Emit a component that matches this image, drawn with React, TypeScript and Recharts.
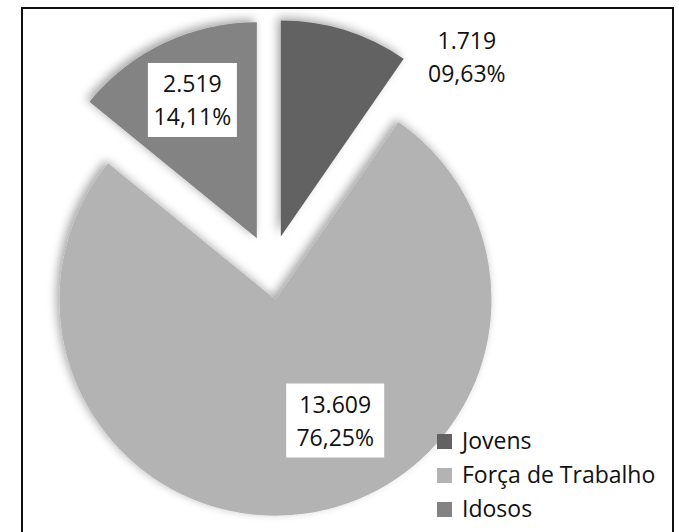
import React from "react";
import { PieChart, Pie, Cell, Sector, Legend } from "recharts";

const categories = ["Jovens", "Força de Trabalho", "Idosos"];
const populations = [1719, 13609, 2519];
const valueLabels = ["1.719", "13.609", "2.519"];
const percentLabels = ["09,63%", "76,25%", "14,11%"];
const colors = ["#626262", "#b3b3b3", "#838383"];

const data = categories.map((name, i) => ({
    name,
    value: populations[i],
    valueLabel: valueLabels[i],
    percentLabel: percentLabels[i],
}));

// how far each slice is pulled out of the pie
const explode: Record<string, number> = {
    "Jovens": 33,
    "Força de Trabalho": 32,
    "Idosos": 33,
};

// label placement: degrees clockwise from 12 o'clock, radius factor, box width
const labelPlace: Record<string, { angle: number; r: number; box: number }> = {
    "Jovens": { angle: 46, r: 1.197, box: 0 },
    "Força de Trabalho": { angle: 153.7, r: 0.624, box: 98 },
    "Idosos": { angle: 335, r: 0.706, box: 89 },
};

const RAD = Math.PI / 180;
const FONT = "'Open Sans', sans-serif";

const shift = (midAngle: number, d: number) => ({
    dx: d * Math.cos(-midAngle * RAD),
    dy: d * Math.sin(-midAngle * RAD),
});

const renderSlice = (props: any) => {
    const d = explode[props.name] ?? 0;
    const { dx, dy } = shift(props.midAngle, d);
    return (
        <Sector
            cx={props.cx + dx}
            cy={props.cy + dy}
            innerRadius={0}
            outerRadius={props.outerRadius}
            startAngle={props.startAngle}
            endAngle={props.endAngle}
            fill={props.fill}
            stroke="none"
            filter="url(#sliceShadow)"
        />
    );
};

const renderLabel = (props: any) => {
    const { cx, cy, midAngle, outerRadius, index } = props;
    const item = data[index];
    const d = explode[item.name] ?? 0;
    const { dx, dy } = shift(midAngle, d);
    const place = labelPlace[item.name];
    const x = cx + dx + outerRadius * place.r * Math.sin(place.angle * RAD);
    const y = cy + dy - outerRadius * place.r * Math.cos(place.angle * RAD);
    return (
        <g>
            {place.box > 0 && (
                <rect x={x - place.box / 2} y={y - 37} width={place.box} height={74} fill="#ffffff" />
            )}
            <text x={x} y={y - 8} textAnchor="middle" fill="#111" fontSize={23} fontFamily={FONT}>
                {item.valueLabel}
            </text>
            <text x={x} y={y + 25} textAnchor="middle" fill="#111" fontSize={23} fontFamily={FONT}>
                {item.percentLabel}
            </text>
        </g>
    );
};

const renderLegend = () => (
    <div style={{ fontFamily: FONT, fontSize: 23, color: "#111" }}>
        {categories.map((name, i) => (
            <div key={name} style={{ display: "flex", alignItems: "center", height: 34 }}>
                <span style={{ width: 15, height: 15, background: colors[i], marginRight: 10, marginTop: 2 }} />
                <span>{name}</span>
            </div>
        ))}
    </div>
);

const App = () => {
    return (
        <div style={{ position: "absolute", left: 0, top: 0, width: 679, height: 532, overflow: "hidden", background: "#fff" }}>
            <div
                style={{
                    position: "absolute",
                    left: 21,
                    top: 7,
                    width: 649,
                    height: 560,
                    border: "2px solid #111",
                }}
            />
            <PieChart width={679} height={532} margin={{ top: 0, right: 0, bottom: 0, left: 0 }}>
                <defs>
                    <filter id="sliceShadow" x="-20%" y="-20%" width="140%" height="140%">
                        <feDropShadow dx="-3" dy="-3" stdDeviation="5" floodColor="#000" floodOpacity="0.35" />
                    </filter>
                </defs>
                <Pie
                    data={data}
                    dataKey="value"
                    nameKey="name"
                    cx={271}
                    cy={268}
                    outerRadius={216}
                    startAngle={90}
                    endAngle={-270}
                    stroke="none"
                    shape={renderSlice}
                    label={renderLabel}
                    labelLine={false}
                    isAnimationActive={false}
                >
                    {data.map((entry, i) => (
                        <Cell key={entry.name} fill={colors[i]} />
                    ))}
                </Pie>
                <Legend
                    layout="vertical"
                    align="right"
                    verticalAlign="top"
                    content={renderLegend}
                    wrapperStyle={{ left: 437, top: 423, width: 230 }}
                />
            </PieChart>
        </div>
    );
};

export default App;
